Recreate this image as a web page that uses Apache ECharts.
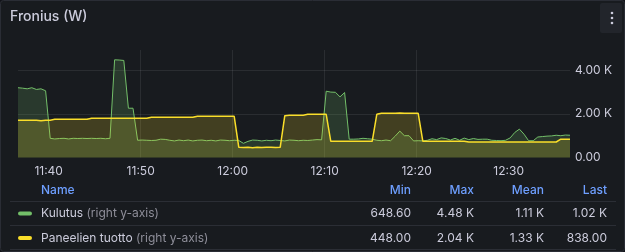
<!DOCTYPE html>
<html>
<head>
<meta charset="utf-8">
<script src="https://cdn.jsdelivr.net/npm/echarts@6/dist/echarts.min.js"></script>
<style>
html,body{margin:0;padding:0;background:#111217;}
#c{width:625px;height:252px;}
</style>
</head>
<body>
<div id="c"></div>
<script>
// ---- data (30 s samples from 11:36:40 to 12:36:40) ----
const startTime = [11, 36, 40];
const sampleSeconds = 30;
const kulutus = [
  3200,3180,3150,3200,3120,3150,3060,
  880,850,870,880,850,880,870,880,870,880,870,880,860,880,
  4480,4470,4450,2260,2260,
  790,800,790,780,790,840,830,790,760,800,770,800,760,790,800,770,790,760,800,790,770,790,780,650,740,800,790,760,790,770,800,780,760,800,790,770,790,780,800,820,810,
  3040,3000,2990,2780,2980,
  840,840,850,880,860,840,790,770,800,770,980,1210,1000,1000,760,770,760,
  790,860,820,900,870,800,880,790,890,820,870,830,840,840,790,780,770,790,
  900,1150,1300,1070,770,770,940,960,980,990,1020,1000,1030,1020
];
const paneelit = [
  1707,1707,1707,1707,1707,1680,1707,1707,
  1752,1752,1752,1752,1752,1752,1752,1752,
  1798,1798,1798,1798,1798,1798,1798,1798,1798,1798,1798,1798,1798,
  1844,1844,1844,1844,1844,1844,1844,1844,1844,1844,
  1890,1890,1890,1890,1890,1890,1890,1890,1890,
  468,460,468,448,468,460,468,468,460,468,
  1920,1935,1935,1935,1935,
  1981,1981,1981,1981,1981,
  743,743,743,743,743,743,743,743,743,743,
  1981,2027,2027,2027,2027,2040,2027,2027,2027,2027,
  750,750,750,750,750,750,750,750,750,750,
  711,711,711,711,711,711,711,711,711,711,711,711,711,711,711,711,711,711,711,711,
  838,838,838
];
const seriesNames = ['Kulutus', 'Paneelien tuotto'];
const seriesColors = ['#73bf69', '#fade2a'];
const xTickLabels = ['11:40', '11:50', '12:00', '12:10', '12:20', '12:30'];
const yTicks = [0, 2000, 4000];
const legendHeaders = ['Name', 'Min', 'Max', 'Mean', 'Last'];
const legendStats = [
  ['648.60', '4.48 K', '1.11 K', '1.02 K'],
  ['448.00', '2.04 K', '1.33 K', '838.00']
];
const titleText = 'Fronius (W)';
const axisNote = '(right y-axis)';

// ---- build (x in minutes since midnight) ----
const m0 = startTime[0] * 60 + startTime[1] + startTime[2] / 60;
const toPairs = arr => arr.map((v, i) => [m0 + i * sampleSeconds / 60, v]);
const mMax = m0 + (kulutus.length - 1) * sampleSeconds / 60;
const xTickValues = xTickLabels.map(s => { const p = s.split(':'); return +p[0] * 60 + +p[1]; });
const pad2 = n => String(n).padStart(2, '0');
const fmtMin = v => { const m = Math.round(v); return pad2(Math.floor(m / 60)) + ':' + pad2(m % 60); };

const FONT = 'Inter, "Noto Sans", sans-serif';
const chart = echarts.init(document.getElementById('c'), null, {renderer: 'canvas'});

const statRight = [411, 474, 544, 607];
const graphics = [];
graphics.push({type: 'rect', z: -10, silent: true, shape: {x: 0.5, y: 0.5, width: 624, height: 251, r: 3},
  style: {fill: '#181b1f', stroke: '#2a2d35', lineWidth: 1}});
graphics.push({type: 'text', left: 10, top: 10, style: {text: titleText, fill: '#ccccdc', font: '500 14px ' + FONT}});
graphics.push({type: 'rect', shape: {x: 600, y: 3, width: 22, height: 30, r: 2}, style: {fill: '#22252b'}});
[13, 18, 23].forEach(y => graphics.push({type: 'circle', shape: {cx: 612, cy: y, r: 1.3}, style: {fill: '#ccccdc'}}));
graphics.push({type: 'text', x: 41, y: 190, style: {text: legendHeaders[0], fill: '#6e9fff', font: '500 12px ' + FONT, verticalAlign: 'middle', align: 'left'}});
for (let k = 1; k < legendHeaders.length; k++) {
  graphics.push({type: 'text', x: statRight[k - 1], y: 190, style: {text: legendHeaders[k], fill: '#6e9fff', font: '500 12px ' + FONT, verticalAlign: 'middle', align: 'right'}});
}
[201.5, 225.5, 249.5].forEach(y => graphics.push({type: 'line', shape: {x1: 10, y1: y, x2: 616, y2: y}, style: {stroke: '#2b2e35', lineWidth: 1}}));
const rowY = [213.5, 238];
seriesNames.forEach((name, r) => {
  graphics.push({type: 'rect', shape: {x: 18, y: rowY[r] - 2, width: 14, height: 4, r: 2}, style: {fill: seriesColors[r]}});
  graphics.push({type: 'text', x: 41, y: rowY[r], style: {
    text: '{a|' + name + '} {b|' + axisNote + '}', verticalAlign: 'middle', align: 'left',
    rich: {a: {fill: '#ccccdc', font: '12px ' + FONT}, b: {fill: '#8e8e99', font: '12px ' + FONT}}
  }});
  legendStats[r].forEach((s, k) => {
    graphics.push({type: 'text', x: statRight[k], y: rowY[r], style: {text: s, fill: '#ccccdc', font: '12px ' + FONT, verticalAlign: 'middle', align: 'right'}});
  });
});

const option = {
  backgroundColor: 'transparent',
  animation: false,
  textStyle: {fontFamily: FONT},
  grid: {left: 18, right: 55, top: 50, bottom: 94.5, containLabel: false},
  xAxis: {
    type: 'value', min: m0, max: mMax,
    axisLine: {show: false},
    axisTick: {show: false, customValues: xTickValues},
    axisLabel: {
      customValues: xTickValues,
      color: '#ccccdc', fontSize: 12, margin: 8, fontFamily: FONT,
      formatter: fmtMin
    },
    splitLine: {show: true, showMinLine: false, showMaxLine: false, lineStyle: {color: 'rgba(204,204,220,0.1)', width: 1}}
  },
  yAxis: {
    type: 'value', position: 'right', min: 0, max: 4930, interval: 2000,
    axisLine: {show: false}, axisTick: {show: false},
    axisLabel: {
      color: '#ccccdc', fontSize: 12, margin: 5, align: 'left', fontFamily: FONT, showMaxLabel: false,
      formatter: v => yTicks.indexOf(v) < 0 ? '' : (v === 0 ? '0.00' : (v / 1000).toFixed(2) + ' K')
    },
    splitLine: {show: true, showMinLine: false, showMaxLine: false, lineStyle: {color: 'rgba(204,204,220,0.1)', width: 1}}
  },
  series: [
    {name: seriesNames[0], type: 'line', data: toPairs(kulutus), showSymbol: false, symbol: 'none',
     lineStyle: {color: seriesColors[0], width: 1}, itemStyle: {color: seriesColors[0]},
     areaStyle: {color: seriesColors[0], opacity: 0.19}, z: 2},
    {name: seriesNames[1], type: 'line', data: toPairs(paneelit), showSymbol: false, symbol: 'none',
     lineStyle: {color: seriesColors[1], width: 1.5}, itemStyle: {color: seriesColors[1]},
     areaStyle: {color: seriesColors[1], opacity: 0.19}, z: 3}
  ],
  graphic: graphics
};
chart.setOption(option);
</script>
</body>
</html>
